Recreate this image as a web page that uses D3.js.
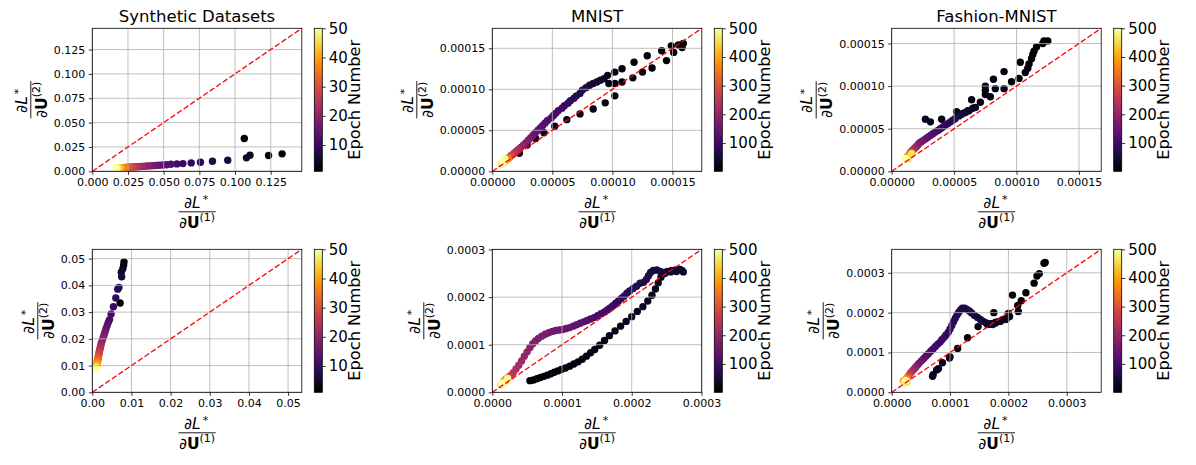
<!DOCTYPE html>
<html>
<head>
<meta charset="utf-8">
<script src="https://cdn.jsdelivr.net/npm/d3@7"></script>
<style>
  body { margin: 0; background: #fff; }
  svg { font-family: "DejaVu Sans", sans-serif; }
</style>
</head>
<body>
<svg id="chart" width="1196" height="465"></svg>
<script>
// ---- data ----
const titles = ["Synthetic Datasets", "MNIST", "Fashion-MNIST"]

// synthetic, epoch = position + 1
const synthTopX = [0.1065, 0.1330, 0.1235, 0.1105, 0.1080, 0.0949, 0.0842, 0.0758, 0.0693, 0.0635,
  0.0593, 0.0551, 0.0520, 0.0493, 0.0468, 0.0445, 0.0424, 0.0405, 0.0387, 0.0370,
  0.0355, 0.0341, 0.0328, 0.0316, 0.0304, 0.0293, 0.0283, 0.0274, 0.0265, 0.0257,
  0.0249, 0.0242, 0.0235, 0.0229, 0.0223, 0.0217, 0.0212, 0.0207, 0.0202, 0.0198,
  0.0194, 0.0190, 0.0186, 0.0182, 0.0179, 0.0176, 0.0173, 0.0170, 0.0167, 0.0164]
const synthTopY = [0.0337, 0.0179, 0.0162, 0.0165, 0.0138, 0.0114, 0.0103, 0.0093, 0.0086, 0.0079,
  0.0076, 0.0072, 0.0068, 0.0065, 0.0062, 0.0060, 0.0058, 0.0056, 0.0054, 0.0052,
  0.0051, 0.0049, 0.0048, 0.0047, 0.0046, 0.0045, 0.0044, 0.0043, 0.0042, 0.0041,
  0.0041, 0.0040, 0.0039, 0.0039, 0.0038, 0.0038, 0.0037, 0.0037, 0.0036, 0.0036,
  0.0036, 0.0035, 0.0035, 0.0035, 0.0034, 0.0034, 0.0034, 0.0034, 0.0033, 0.0033]

const synthBottomX = [0.0071, 0.0081, 0.0080, 0.0078, 0.0074, 0.0075, 0.0068, 0.0065, 0.0060, 0.0054,
  0.0048, 0.0044, 0.0041, 0.0038, 0.0035, 0.0033, 0.0031, 0.0029, 0.0027, 0.0025,
  0.0023, 0.0022, 0.0021, 0.0020, 0.0019, 0.0018, 0.0017, 0.0017, 0.0016, 0.0015,
  0.0015, 0.0014, 0.0014, 0.0013, 0.0013, 0.0013, 0.0012, 0.0012, 0.0012, 0.0011,
  0.0011, 0.0011, 0.0011, 0.0010, 0.0010, 0.0010, 0.0010, 0.0010, 0.0010, 0.0010]
const synthBottomY = [0.0334, 0.0488, 0.0476, 0.0462, 0.0449, 0.0432, 0.0392, 0.0386, 0.0353, 0.0320,
  0.0293, 0.0272, 0.0262, 0.0250, 0.0238, 0.0228, 0.0219, 0.0210, 0.0201, 0.0192,
  0.0184, 0.0177, 0.0170, 0.0164, 0.0158, 0.0152, 0.0147, 0.0142, 0.0137, 0.0132,
  0.0128, 0.0124, 0.0120, 0.0117, 0.0114, 0.0111, 0.0108, 0.0106, 0.0104, 0.0102,
  0.0100, 0.0098, 0.0097, 0.0095, 0.0094, 0.0093, 0.0092, 0.0090, 0.0089, 0.0088]

// MNIST / Fashion-MNIST: [epoch, dL/dU1, dL/dU2] in units of 1e-5
const E5 = 1e-5
const mnistTop = [[1,15.9,15.6],[2,15.8,15.1],[3,15.5,15.4],[4,15.1,14.5],[5,14.9,15.3],[6,14.5,13.5],
  [7,14.1,14.7],[8,13.3,12.6],[9,12.9,14.1],[10,12.5,12.1],[11,11.8,13.3],[12,11.7,11.4],[13,10.8,12.5],
  [14,10.8,10.9],[15,10.2,12.1],[16,10.2,10.7],[17,9.7,10.7],[18,10.2,9.2],[19,9.6,11.7],[20,9.4,8.35],
  [21,8.4,7.6],[22,7.3,7.0],[23,6.2,6.3],[24,5.2,5.5],[25,4.3,4.7],[26,3.6,4.0],[27,2.9,3.2],[28,2.25,2.2],
  [30,9.3,11.3],[35,9.0,11.1],[40,8.7,10.9],[45,8.4,10.7],[50,8.1,10.5],[55,7.8,10.2],[60,7.5,9.9],
  [65,7.3,9.5],[70,7.0,9.2],[75,6.8,8.9],[80,6.5,8.6],[85,6.3,8.3],[90,6.0,8.0],[95,5.8,7.7],[100,5.5,7.4],
  [105,5.3,7.1],[110,5.1,6.8],[115,4.9,6.5],[120,4.6,6.2],[125,4.4,5.9],[130,4.2,5.6],[135,4.0,5.3],
  [140,3.8,5.0],[145,3.6,4.7],[150,3.4,4.4],[160,3.2,4.1],[170,3.0,3.8],[180,2.8,3.5],[190,2.6,3.2],
  [200,2.4,2.95],[215,2.2,2.7],[230,2.0,2.45],[245,1.85,2.25],[260,1.7,2.05],[280,1.55,1.9],[300,1.45,1.75],
  [325,1.35,1.6],[350,1.25,1.5],[375,1.15,1.4],[400,1.1,1.3],[430,1.0,1.2],[460,0.95,1.15],[470,0.75,0.9],
  [490,1.05,1.5],[500,0.9,1.1]]

const fashionTop = [[1,12.5,15.3],[2,12.2,15.3],[3,12.1,15.0],[4,11.6,14.6],[5,11.4,14.1],[6,11.3,13.7],
  [7,11.2,13.2],[8,11.0,12.6],[9,10.3,12.8],[10,10.9,12.1],[11,10.7,11.6],[12,10.2,10.9],[13,9.0,11.7],
  [14,9.6,10.5],[15,9.0,9.7],[16,8.15,10.8],[17,8.3,9.7],[18,7.5,10.0],[19,7.5,9.5],[20,7.5,9.0],
  [21,7.9,8.75],[22,7.1,8.1],[23,6.4,8.4],[24,5.2,7.0],[25,4.0,6.1],[26,3.1,5.8],[27,2.7,6.1],
  [28,6.7,7.5],[29,6.1,7.1],[30,5.7,6.8],
  [35,6.5,7.4],[40,6.2,7.1],[45,5.9,6.9],[50,5.6,6.7],[55,5.4,6.5],[60,5.1,6.2],[65,4.9,6.0],[70,4.7,5.8],
  [75,4.5,5.6],[80,4.3,5.4],[85,4.1,5.2],[90,3.9,5.0],[95,3.7,4.8],[100,3.5,4.6],[110,3.3,4.4],
  [120,3.1,4.2],[130,2.9,4.0],[140,2.7,3.8],[150,2.5,3.6],[160,2.35,3.45],[170,2.2,3.3],[180,2.1,3.1],
  [190,2.0,2.95],[200,1.9,2.8],[215,1.8,2.65],[230,1.7,2.5],[250,1.6,2.35],[270,1.5,2.2],[290,1.45,2.05],
  [310,1.4,1.9],[340,1.3,1.8],[370,1.25,1.7],[400,1.2,1.6],[420,1.5,1.9],[440,1.15,1.55],[450,1.3,1.5],
  [460,1.6,2.1],[480,1.1,1.5],[500,1.1,1.45]]

const mnistBottom = [[1,5.4,2.45],[2,5.9,2.6],[3,6.4,2.85],[4,6.9,3.1],[5,7.4,3.35],[6,7.9,3.6],[7,8.4,3.9],
  [8,8.9,4.2],[9,9.4,4.5],[10,9.9,4.8],[11,10.5,5.1],[12,11.1,5.5],[13,11.7,5.95],[14,12.3,6.4],
  [15,12.9,6.95],[16,13.5,7.6],[17,14.1,8.3],[18,14.7,9.0],[19,15.4,9.9],[20,16.1,10.9],[21,16.8,11.9],
  [22,17.6,12.9],[23,18.4,13.9],[24,19.2,14.9],[25,20.0,15.9],[26,20.8,17.0],[27,21.6,18.0],[28,22.3,19.2],
  [29,22.9,20.4],[30,23.4,21.7],[31,23.8,23.0],[32,24.2,24.2],[33,24.8,25.0],[34,25.6,25.3],[35,26.4,25.4],
  [36,27.2,25.6],[37,27.4,25.3],
  [38,26.9,25.8],[40,26.3,25.7],[42,25.7,25.6],[44,25.1,25.4],[46,24.6,25.2],[48,24.1,25.4],[50,23.6,25.7],
  [52,23.1,25.6],[54,22.7,25.2],[56,22.4,24.5],[58,22.1,23.7],[60,21.7,23.1],[63,21.2,22.9],[66,20.7,22.3],
  [69,20.2,21.8],[72,19.7,21.3],[75,19.3,20.8],[78,18.9,20.2],[81,18.5,19.7],[84,18.1,19.2],[87,17.7,18.7],
  [90,17.3,18.2],[93,16.9,17.7],[96,16.5,17.3],[100,16.1,16.9],[104,15.6,16.5],[108,15.1,16.1],
  [112,14.6,15.7],[116,14.1,15.4],[120,13.6,15.1],[124,13.1,14.8],[128,12.6,14.5],[132,12.1,14.2],
  [136,11.6,13.9],[140,11.1,13.6],[144,10.6,13.4],[148,10.1,13.2],[152,9.6,13.1],[156,9.1,13.0],
  [160,8.6,12.8],[164,8.1,12.5],[168,7.6,12.2],[172,7.1,11.8],[176,6.6,11.3],[180,6.2,10.8],[185,5.8,10.2],
  [190,5.4,9.4],[195,5.0,8.5],[200,4.6,7.6],[210,4.2,6.6],[220,3.8,5.7],[230,3.4,4.9],[245,3.0,4.1],
  [260,2.6,3.5],[280,2.3,3.1],[300,2.0,2.8],[330,1.8,2.5],[360,1.6,2.3],[400,1.5,2.1],[420,1.9,2.4],
  [440,1.4,1.95],[450,1.2,1.6],[470,1.6,2.0],[480,1.35,1.85],[490,2.2,2.9],[500,1.3,1.8]]

const fashionBottom = [[1,26.3,32.6],[2,26.1,32.4],[3,25.3,29.8],[4,24.9,29.2],[5,24.4,27.4],[6,23.0,25.0],
  [7,22.2,23.0],[8,21.6,21.8],[9,21.7,20.3],[10,20.7,24.4],[11,20.0,19.2],[12,20.0,19.8],[13,17.5,20.0],
  [14,19.6,18.3],[15,18.6,17.8],[16,17.8,17.6],[17,17.0,17.2],[18,16.4,17.0],[19,14.8,16.5],[20,13.0,13.7],
  [21,11.3,11.0],[22,10.0,8.9],[23,9.9,8.6],[24,8.7,7.4],[25,8.0,5.9],[26,7.7,5.6],[27,7.1,4.4],[28,7.0,4.0],
  [30,20.2,19.0],[32,19.6,18.6],[34,19.0,18.2],[36,18.4,17.8],[38,17.8,17.4],[40,17.3,17.0],[42,16.7,17.1],
  [44,16.2,17.4],[46,15.7,17.8],[48,15.2,18.3],[50,14.7,18.8],[52,14.2,19.3],[54,13.7,19.9],[56,13.3,20.4],
  [58,12.9,20.8],[60,12.5,21.1],[62,12.1,21.1],[64,11.8,20.7],[66,11.5,20.1],[68,11.2,19.4],[70,10.9,18.6],
  [73,10.6,17.7],[76,10.3,16.8],[79,10.0,15.9],[82,9.7,15.1],[85,9.3,14.4],[88,9.0,13.8],[91,8.6,13.2],
  [94,8.3,12.6],[97,7.9,12.1],[100,7.5,11.5],[105,7.1,10.9],[110,6.7,10.3],[115,6.3,9.7],[120,5.9,9.1],
  [130,5.5,8.5],[140,5.1,7.9],[155,4.7,7.3],[170,4.4,6.8],[185,4.1,6.3],[200,3.8,5.8],[220,3.5,5.3],
  [245,3.2,4.8],[270,3.0,4.3],[300,2.8,3.9],[340,2.6,3.5],[380,2.4,3.2],[400,2.0,2.9],[420,2.3,3.0],
  [440,2.6,2.6],[460,2.2,2.8],[470,2.2,2.4],[500,2.5,2.9]]

// tick labels
const synthTopTicks = [0, 0.025, 0.05, 0.075, 0.1, 0.125]
const synthBottomTicks = [0, 0.01, 0.02, 0.03, 0.04, 0.05]
const mnistTopTicks = [0, 0.00005, 0.0001, 0.00015]
const mnistBottomTicks = [0, 0.0001, 0.0002, 0.0003]
const epoch50Ticks = [10, 20, 30, 40, 50]
const epoch500Ticks = [100, 200, 300, 400, 500]

// ---- panels ----
const fromXY = (xs, ys) => xs.map((x, i) => ({ epoch: i + 1, x, y: ys[i] }))
const fromRows = (rows) => rows.map(([e, x, y]) => ({ epoch: e, x: x * E5, y: y * E5 }))

const panels = [
  { row: 0, col: 0, title: titles[0], data: fromXY(synthTopX, synthTopY), max: 0.1468, ticks: synthTopTicks, fmt: ".3f", epochs: 50, cbTicks: epoch50Ticks },
  { row: 0, col: 1, title: titles[1], data: fromRows(mnistTop), max: 0.0001744, ticks: mnistTopTicks, fmt: ".5f", epochs: 500, cbTicks: epoch500Ticks },
  { row: 0, col: 2, title: titles[2], data: fromRows(fashionTop), max: 0.0001678, ticks: mnistTopTicks, fmt: ".5f", epochs: 500, cbTicks: epoch500Ticks },
  { row: 1, col: 0, title: "", data: fromXY(synthBottomX, synthBottomY), max: 0.0535, ticks: synthBottomTicks, fmt: ".2f", epochs: 50, cbTicks: epoch50Ticks },
  { row: 1, col: 1, title: "", data: fromRows(mnistBottom), max: 0.0003005, ticks: mnistBottomTicks, fmt: ".4f", epochs: 500, cbTicks: epoch500Ticks },
  { row: 1, col: 2, title: "", data: fromRows(fashionBottom), max: 0.000359, ticks: mnistBottomTicks, fmt: ".4f", epochs: 500, cbTicks: epoch500Ticks },
]

const colLeft = [92.3, 492.3, 891.7]
const rowTop = [28.3, 249.3]
const W = 209.5, H = 143

const svg = d3.select("#chart")
const defs = svg.append("defs")

// fraction label dL*/dU(k), line at y=0, centered at x=0
function addFrac(parent, sup) {
  const g = parent.append("g")
  const num = g.append("text").attr("text-anchor", "middle").attr("x", -1).attr("y", -4).attr("font-size", 15.5)
  num.append("tspan").text("∂")
  num.append("tspan").attr("font-style", "italic").text("L")
  num.append("tspan").attr("dx", 2).attr("dy", -4.5).attr("font-size", 11).text("*")
  const den = g.append("text").attr("text-anchor", "middle").attr("y", 16).attr("font-size", 15.5)
  den.append("tspan").text("∂")
  den.append("tspan").attr("font-weight", "bold").text("U")
  den.append("tspan").attr("dy", -6.4).attr("font-size", 11).text(`(${sup})`)
  const w = Math.max(num.node().getBBox().width, den.node().getBBox().width) + 1
  g.append("line").attr("x1", -w / 2).attr("x2", w / 2).attr("stroke", "#000").attr("stroke-width", 0.9)
  return g
}

panels.forEach((p, k) => {
  const left = colLeft[p.col], top = rowTop[p.row]
  const x = d3.scaleLinear().domain([0, p.max]).range([left, left + W])
  const y = d3.scaleLinear().domain([0, p.max]).range([top + H, top])
  const color = d3.scaleSequential(d3.interpolateInferno).domain([1, p.epochs])
  const g = svg.append("g")

  defs.append("clipPath").attr("id", `clip${k}`)
    .append("rect").attr("x", left).attr("y", top).attr("width", W).attr("height", H)

  // scatter, later epochs on top
  g.append("g").attr("clip-path", `url(#clip${k})`)
    .selectAll("circle")
    .data(p.data.slice().sort((a, b) => a.epoch - b.epoch))
    .join("circle")
    .attr("cx", (d) => x(d.x))
    .attr("cy", (d) => y(d.y))
    .attr("r", 3.7)
    .attr("fill", (d) => color(d.epoch))

  // grid
  const grid = g.append("g").attr("stroke", "#b0b0b0").attr("stroke-width", 0.8)
  p.ticks.forEach((t) => {
    grid.append("line").attr("x1", x(t)).attr("x2", x(t)).attr("y1", top).attr("y2", top + H)
    grid.append("line").attr("y1", y(t)).attr("y2", y(t)).attr("x1", left).attr("x2", left + W)
  })

  // diagonal y = x
  g.append("line")
    .attr("x1", x(0)).attr("y1", y(0)).attr("x2", x(p.max)).attr("y2", y(p.max))
    .attr("stroke", "red").attr("stroke-width", 1.3).attr("stroke-dasharray", "5.5,2.4")

  // spines
  g.append("rect").attr("x", left).attr("y", top).attr("width", W).attr("height", H)
    .attr("fill", "none").attr("stroke", "#000").attr("stroke-width", 0.8)

  const fmt = d3.format(p.fmt)
  const xAxis = g.append("g").attr("transform", `translate(0,${top + H})`)
    .call(d3.axisBottom(x).tickValues(p.ticks).tickFormat(fmt).tickSize(3.5).tickPadding(3.5))
  const yAxis = g.append("g").attr("transform", `translate(${left},0)`)
    .call(d3.axisLeft(y).tickValues(p.ticks).tickFormat(fmt).tickSize(3.5).tickPadding(3.5))
  ;[xAxis, yAxis].forEach((a) => {
    a.select(".domain").remove()
    a.attr("font-family", "DejaVu Sans").attr("font-size", 11)
    a.selectAll("line").attr("stroke-width", 0.8)
  })

  if (p.title) {
    g.append("text").attr("x", left + W / 2).attr("y", top - 6.6)
      .attr("text-anchor", "middle").attr("font-size", 16.5).text(p.title)
  }

  // x label
  addFrac(g, 1).attr("transform", `translate(${left + W / 2},${top + H + 40.5})`)

  // y label, left of tick labels
  let tickW = 0
  yAxis.selectAll("text").each(function () { tickW = Math.max(tickW, this.getBBox().width) })
  const lineX = left - 7 - tickW - 23
  addFrac(g, 2).attr("transform", `translate(${lineX},${top + H / 2}) rotate(-90)`)

  // colorbar
  const cbX = left + W + 12.5, cbW = 8
  const grad = defs.append("linearGradient").attr("id", `grad${k}`)
    .attr("x1", 0).attr("y1", 1).attr("x2", 0).attr("y2", 0)
  d3.range(0, 1.0001, 0.05).forEach((t) => {
    grad.append("stop").attr("offset", t).attr("stop-color", d3.interpolateInferno(t))
  })
  g.append("rect").attr("x", cbX).attr("y", top).attr("width", cbW).attr("height", H)
    .attr("fill", `url(#grad${k})`).attr("stroke", "#000").attr("stroke-width", 0.8)
  const cbScale = d3.scaleLinear().domain([1, p.epochs]).range([top + H, top])
  const cbAxis = g.append("g").attr("transform", `translate(${cbX + cbW},0)`)
    .call(d3.axisRight(cbScale).tickValues(p.cbTicks).tickSize(3.5).tickPadding(3))
  cbAxis.select(".domain").remove()
  cbAxis.attr("font-family", "DejaVu Sans").attr("font-size", 15)
  cbAxis.selectAll("line").attr("stroke-width", 0.8)
  let cbLabW = 0
  cbAxis.selectAll("text").each(function () { cbLabW = Math.max(cbLabW, this.getBBox().width) })
  g.append("text")
    .attr("transform", `translate(${cbX + cbW + 6.5 + cbLabW + 12.5},${top + H / 2}) rotate(-90)`)
    .attr("text-anchor", "middle").attr("font-size", 16.2).text("Epoch Number")
})
</script>
</body>
</html>
